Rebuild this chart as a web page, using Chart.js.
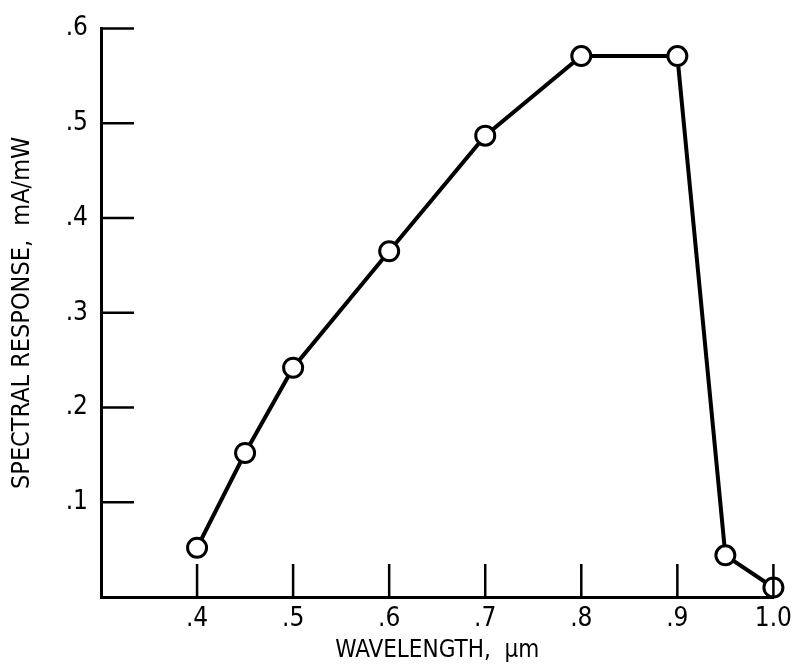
<!DOCTYPE html>
<html>
<head>
<meta charset="utf-8">
<script src="https://cdn.jsdelivr.net/npm/chart.js@4"></script>
<style>
  body { margin: 0; background: #fff; }
  canvas { display: block; }
</style>
</head>
<body>
<canvas id="spectral" width="799" height="669"></canvas>
<script>
const wavelength = [0.40, 0.45, 0.50, 0.60, 0.70, 0.80, 0.90, 0.95, 1.00];
const response = [0.052, 0.152, 0.242, 0.365, 0.487, 0.571, 0.571, 0.044, 0.010];

//Tick values and their printed labels
const xTickValues = [0.4, 0.5, 0.6, 0.7, 0.8, 0.9, 1.0];
const xTickLabels = [".4", ".5", ".6", ".7", ".8", ".9", "1.0"];
const yTickValues = [0.1, 0.2, 0.3, 0.4, 0.5, 0.6];
const yTickLabels = [".1", ".2", ".3", ".4", ".5", ".6"];

const fontFamily = "'Liberation Sans Narrow', 'DejaVu Sans Condensed', sans-serif";

function labelFor(values, labels, v) {
    const idx = values.findIndex(t => Math.abs(t - v) < 1e-6);
    return idx >= 0 ? labels[idx] : '';
}

//Tick marks point into the plot, so draw them ourselves from the scales
const inwardTicks = {
    id: 'inwardTicks',
    afterDraw(chart) {
        const ctx = chart.ctx;
        const xs = chart.scales.x;
        const ys = chart.scales.y;
        const len = 33;
        ctx.save();
        ctx.strokeStyle = '#000';
        ctx.lineWidth = 2.5;
        ctx.beginPath();
        xTickValues.forEach(v => {
            const px = xs.getPixelForValue(v);
            ctx.moveTo(px, ys.bottom);
            ctx.lineTo(px, ys.bottom - len);
        });
        yTickValues.forEach(v => {
            const py = ys.getPixelForValue(v);
            ctx.moveTo(xs.left, py);
            ctx.lineTo(xs.left + len, py);
        });
        ctx.stroke();
        ctx.restore();
    }
};

const spectralChart = new Chart(
    document.getElementById('spectral'),
    {
        type: 'line',
        data: {
            datasets: [{
                data: wavelength.map((w, i) => ({x: w, y: response[i]})),
                borderColor: '#000',
                borderWidth: 4,
                pointRadius: 9.5,
                pointBorderWidth: 3,
                pointBackgroundColor: '#fff',
                pointBorderColor: '#000',
                tension: 0,
                clip: false,
            }]
        },
        options: {
            responsive: false,
            animation: false,
            layout: {
                padding: {left: 0, top: 21, right: 21, bottom: 0}
            },
            plugins: {
                legend: {display: false},
                tooltip: {enabled: false},
            },
            scales: {
                x: {
                    type: 'linear',
                    min: 0.3,
                    max: 1.0,
                    afterBuildTicks: s => { s.ticks = xTickValues.map(v => ({value: v})); },
                    afterFit: s => { s.height = 72; },
                    grid: {display: true, drawOnChartArea: false, drawTicks: false},
                    border: {display: true, color: '#000', width: 3},
                    ticks: {
                        color: '#000',
                        padding: 7,
                        maxRotation: 0,
                        font: {family: fontFamily, size: 26},
                        callback: v => labelFor(xTickValues, xTickLabels, v),
                    },
                    title: {
                        display: true,
                        text: 'WAVELENGTH,  \u00b5m',
                        color: '#000',
                        font: {family: fontFamily, size: 24},
                        padding: {top: 0, bottom: 4},
                    },
                },
                y: {
                    min: 0,
                    max: 0.6,
                    afterBuildTicks: s => { s.ticks = yTickValues.map(v => ({value: v})); },
                    afterFit: s => { s.width = 101; },
                    grid: {display: true, drawOnChartArea: false, drawTicks: false},
                    border: {display: true, color: '#000', width: 3},
                    ticks: {
                        color: '#000',
                        padding: 13,
                        font: {family: fontFamily, size: 26},
                        callback: v => labelFor(yTickValues, yTickLabels, v),
                    },
                    title: {
                        display: true,
                        text: 'SPECTRAL RESPONSE,  mA/mW',
                        color: '#000',
                        font: {family: fontFamily, size: 25},
                        padding: {top: 7, bottom: 0},
                    },
                },
            },
        },
        plugins: [inwardTicks],
    }
);
</script>
</body>
</html>
